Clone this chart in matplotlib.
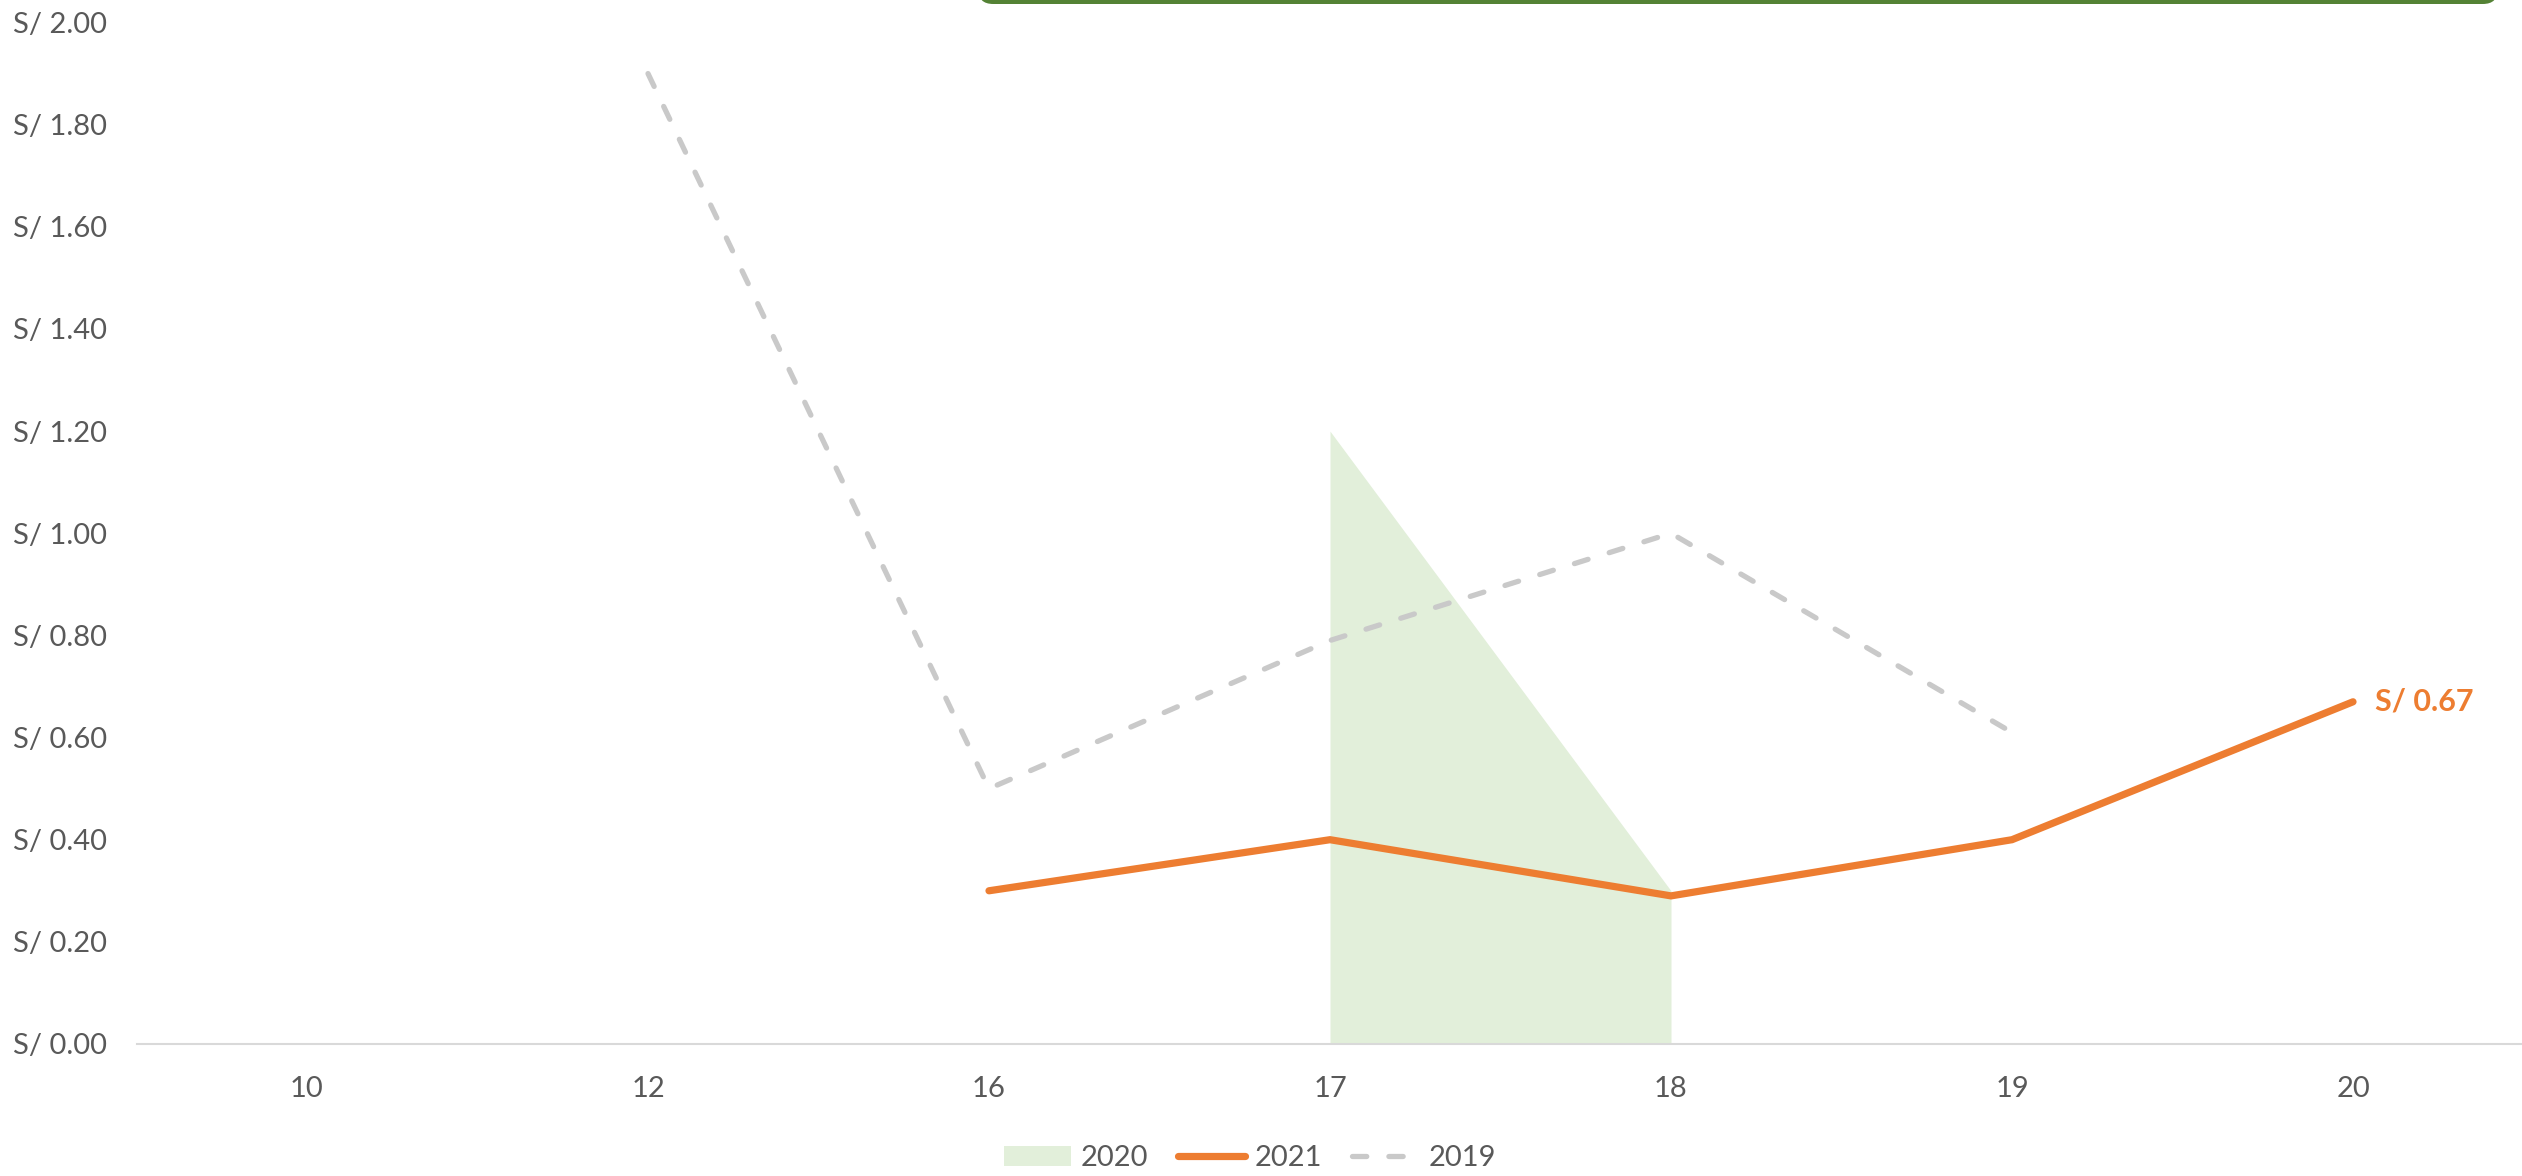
import numpy as np
import matplotlib
matplotlib.use("Agg")
import matplotlib.pyplot as plt
from matplotlib.patches import FancyBboxPatch

plt.rcParams['font.family'] = ['Lato', 'DejaVu Sans']

# data
categories = ['10', '12', '16', '17', '18', '19', '20']
y2020 = [np.nan, np.nan, np.nan, 1.20, 0.30, np.nan, np.nan]
y2021 = [np.nan, np.nan, 0.30, 0.40, 0.29, 0.40, 0.67]
y2019 = [np.nan, 1.90, 0.50, 0.79, 1.00, 0.61, np.nan]
yticks = [0.0, 0.2, 0.4, 0.6, 0.8, 1.0, 1.2, 1.4, 1.6, 1.8, 2.0]

TEXT = '#595959'
ORANGE = '#ED7D31'
GRAY = '#C9C9C9'
GREEN_FILL = '#E2EFDA'
FS = 21
W, H = 2522, 1176

fig = plt.figure(figsize=(W / 100, H / 100), dpi=100)
ax = fig.add_axes([136.5 / W, (H - 1044) / H, 2387 / W, (1044 - 22.5) / H])

x = np.arange(len(categories))
a2020 = np.array(y2020)
mask = ~np.isnan(a2020)
ax.fill_between(x[mask], 0, a2020[mask], color=GREEN_FILL, lw=0, label='2020')
ax.plot(x, y2021, color=ORANGE, lw=5.2, solid_capstyle='round',
        solid_joinstyle='miter', label='2021')
ax.plot(x, y2019, color=GRAY, lw=3.8, dashes=(2.7, 4.2),
        dash_capstyle='round', label='2019')

# data label on last point
ax.annotate(f'S/ {y2021[-1]:.2f}', (x[-1], y2021[-1]), xytext=(16, 0),
            textcoords='offset points', ha='left', va='center',
            color=ORANGE, fontsize=FS + 1, fontweight='bold')

ax.set_xlim(-0.5, len(categories) - 0.5)
ax.set_ylim(0, 2.0)
ax.set_xticks(x)
ax.set_xticklabels(categories)
ax.set_yticks(yticks)
ax.set_yticklabels([f'S/ {v:.2f}' for v in yticks])
ax.tick_params(axis='both', length=0, labelsize=FS, labelcolor=TEXT)
ax.tick_params(axis='x', pad=23)
ax.tick_params(axis='y', pad=21)
for s in ['top', 'right', 'left']:
    ax.spines[s].set_visible(False)
ax.spines['bottom'].set_color('#D9D9D9')
ax.spines['bottom'].set_linewidth(1.5)

leg = fig.legend(loc='center', bbox_to_anchor=(1250 / W, 1 - 1158 / H),
                 ncol=3, frameon=False, fontsize=FS, handlelength=2.3,
                 handletextpad=0.35, columnspacing=1.0, labelcolor=TEXT)

# green rounded box cut off at the top of the canvas
box = FancyBboxPatch((978 / W, 1 - 4 / H), (2498 - 978) / W, 0.1,
                     boxstyle='round,pad=0,rounding_size=0.006',
                     mutation_aspect=W / H, transform=fig.transFigure,
                     facecolor='#548235', edgecolor='none', clip_on=False)
fig.patches.append(box)

fig.savefig('out.png', dpi=100)
